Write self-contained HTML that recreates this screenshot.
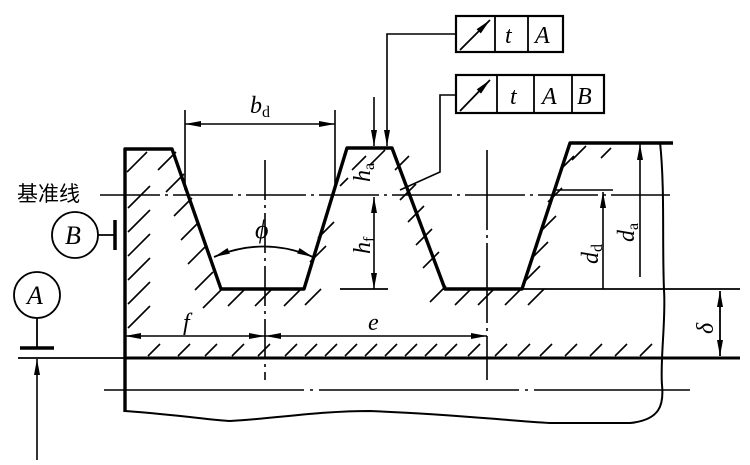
<!DOCTYPE html>
<html><head><meta charset="utf-8"><style>
html,body{margin:0;padding:0;background:#fff;width:750px;height:465px;overflow:hidden}
svg{display:block}
text{font-family:"Liberation Serif",serif;font-style:italic;fill:#000}
</style></head><body>
<svg width="750" height="465" viewBox="0 0 750 465" xmlns="http://www.w3.org/2000/svg">
<defs>
<marker id="ar" markerWidth="16" markerHeight="8" refX="16" refY="4" orient="auto-start-reverse" markerUnits="userSpaceOnUse"><path d="M0,1 L16,4 L0,7 z" fill="#000"/></marker>
</defs>
<g stroke="#000" fill="none">
<path d="M125,412 L125,149 L172,149 L221,289 L304,289 L347,148 L392,148 L445,289 L522,289 L570,143 L673,143" stroke-width="3.4" stroke-linejoin="round"/>
<line x1="125" y1="358" x2="740" y2="358" stroke-width="3"/>
<line x1="445" y1="289" x2="740" y2="289" stroke-width="1.8"/>
<path d="M125,411 C180,415 210,420 230,421 C280,418 320,411 370,411 C450,414 500,420 550,423 L630,423 C660,420 664,405 662,385 C660,360 666,320 664,290 C662,240 665,190 660,142" stroke-width="2"/>
<path d="M100,195 L670,195" stroke-width="1.6" stroke-dasharray="60,5,3,5"/>
<path d="M104,390 L690,390" stroke-width="1.6" stroke-dasharray="200,6,3,6"/>
<path d="M265,160 L265,380" stroke-width="1.6" stroke-dasharray="40,5,3,5"/>
<path d="M487,150 L487,380" stroke-width="1.6" stroke-dasharray="80,5,3,5"/>
<line x1="185" y1="110" x2="185" y2="190" stroke-width="1.6"/>
<line x1="335" y1="110" x2="335" y2="190" stroke-width="1.6"/>
<line x1="185" y1="124" x2="335" y2="124" stroke-width="1.6" marker-start="url(#ar)" marker-end="url(#ar)"/>
<path d="M214,257 Q264,236 313,257" stroke-width="1.8" marker-start="url(#ar)" marker-end="url(#ar)"/>
<line x1="125" y1="336" x2="265" y2="336" stroke-width="1.6" marker-start="url(#ar)" marker-end="url(#ar)"/>
<line x1="265" y1="336" x2="487" y2="336" stroke-width="1.6" marker-start="url(#ar)" marker-end="url(#ar)"/>
<line x1="374" y1="97" x2="374" y2="146" stroke-width="1.6" marker-end="url(#ar)"/>
<line x1="374" y1="197" x2="374" y2="289" stroke-width="1.6" marker-start="url(#ar)" marker-end="url(#ar)"/>
<line x1="340" y1="289" x2="388" y2="289" stroke-width="1.8"/>
<path d="M456,34 L387,34 L387,146" stroke-width="1.6" marker-end="url(#ar)"/>
<path d="M456,95 L440,95 L440,172 L400,190" stroke-width="1.6"/>
<line x1="555" y1="190" x2="613" y2="190" stroke-width="1.6"/>
<line x1="603" y1="289" x2="603" y2="192" stroke-width="1.6" marker-end="url(#ar)"/>
<line x1="640" y1="277" x2="640" y2="144" stroke-width="1.6" marker-end="url(#ar)"/>
<line x1="720" y1="291" x2="720" y2="356" stroke-width="1.8" marker-start="url(#ar)" marker-end="url(#ar)"/>
<circle cx="75" cy="235" r="23" stroke-width="1.8"/>
<line x1="98" y1="235" x2="115" y2="235" stroke-width="1.8"/>
<line x1="115" y1="220" x2="115" y2="250" stroke-width="3.5"/>
<circle cx="37" cy="295" r="23" stroke-width="1.8"/>
<line x1="37" y1="318" x2="37" y2="347" stroke-width="1.8"/>
<line x1="20" y1="348" x2="54" y2="348" stroke-width="3.5"/>
<line x1="18" y1="358" x2="125" y2="358" stroke-width="1.8"/>
<line x1="37" y1="460" x2="37" y2="359" stroke-width="1.6" marker-end="url(#ar)"/>
<rect x="456" y="16" width="107" height="36" stroke-width="2.2"/>
<line x1="495" y1="16" x2="495" y2="52" stroke-width="1.8"/>
<line x1="528" y1="16" x2="528" y2="52" stroke-width="1.8"/>
<line x1="460" y1="50" x2="490" y2="20" stroke-width="1.8" marker-end="url(#ar)"/>
<rect x="456" y="75" width="148" height="38" stroke-width="2.2"/>
<line x1="497" y1="75" x2="497" y2="113" stroke-width="1.8"/>
<line x1="534" y1="75" x2="534" y2="113" stroke-width="1.8"/>
<line x1="572" y1="75" x2="572" y2="113" stroke-width="1.8"/>
<line x1="460" y1="111" x2="490" y2="80" stroke-width="1.8" marker-end="url(#ar)"/>
<g stroke-width="1.6">
<path d="M127,172 l20,-20 M158,170 l18,-18
M128,208 l22,-22 M128,232 l22,-22 M128,256 l22,-22 M128,280 l22,-22 M128,304 l22,-22 M128,328 l22,-22
M166,192 l18,-18 M174,216 l18,-18 M181,240 l18,-18 M188,264 l18,-18 M195,290 l18,-18 M203,308 l18,-18
M228,306 l16,-16 M255,306 l16,-16 M284,306 l16,-16
M352,170 l14,-14 M370,165 l15,-15 M395,170 l14,-14 M340,186 l8,-8
M400,200 l16,-16 M408,222 l16,-16 M416,245 l16,-16 M423,268 l16,-16 M430,302 l16,-16 M455,305 l16,-16 M478,305 l16,-16 M505,305 l16,-16 M528,305 l16,-16
M524,282 l16,-16 M532,258 l16,-16 M540,232 l16,-16 M548,202 l14,-14 M560,170 l14,-14 M572,160 l14,-14 M601,158 l10,-10
M305,305 l16,-16 M310,262 l16,-16 M318,238 l16,-16"/>
<path d="M148,356 l12,-12 M178,356 l12,-12 M205,356 l12,-12 M232,356 l12,-12 M258,356 l12,-12 M285,356 l12,-12 M305,356 l12,-12 M325,356 l12,-12 M345,356 l12,-12 M365,356 l12,-12 M385,356 l12,-12 M405,356 l12,-12 M425,356 l12,-12 M445,356 l12,-12 M468,356 l12,-12 M495,356 l12,-12 M518,356 l12,-12 M540,356 l12,-12 M565,356 l12,-12 M590,356 l12,-12 M615,356 l12,-12 M640,356 l12,-12"/>
</g>
</g>
<text x="17" y="201" style="font-style:normal;font-family:'Liberation Sans','Noto Sans CJK SC',sans-serif" font-size="21">基准线</text>
<text x="250" y="113" font-size="24">b<tspan font-size="16" font-style="normal" dy="4">d</tspan></text>
<text x="255" y="238" font-size="26">ϕ</text>
<text x="183" y="330" font-size="24">f</text>
<text x="368" y="330" font-size="24">e</text>
<text x="65" y="244" font-size="26">B</text>
<text x="27" y="304" font-size="26">A</text>
<text x="505" y="43" font-size="24">t</text>
<text x="535" y="43" font-size="24">A</text>
<text x="510" y="104" font-size="24">t</text>
<text x="542" y="104" font-size="24">A</text>
<text x="577" y="104" font-size="24">B</text>
<text transform="translate(370,182) rotate(-90)" font-size="24">h<tspan font-size="16" font-style="normal" dy="4">a</tspan></text>
<text transform="translate(370,254) rotate(-90)" font-size="24">h<tspan font-size="16" font-style="normal" dy="4">f</tspan></text>
<text transform="translate(598,264) rotate(-90)" font-size="24">d<tspan font-size="16" font-style="normal" dy="4">d</tspan></text>
<text transform="translate(634,242) rotate(-90)" font-size="24">d<tspan font-size="16" font-style="normal" dy="4">a</tspan></text>
<text transform="translate(713,334) rotate(-90)" font-size="24">δ</text>
</svg>
</body></html>
